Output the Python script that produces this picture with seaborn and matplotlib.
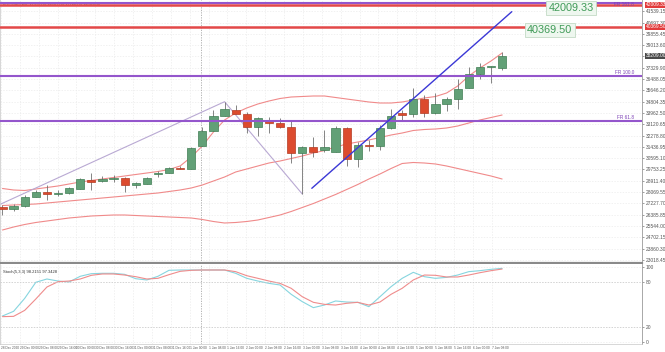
import numpy as np
import pandas as pd
import seaborn as sns
import matplotlib.pyplot as plt

# BTCUSD 4H candles
opens = [26982, 26788, 27034, 27727, 28099, 27943, 27980, 28323, 28971, 28874,
         29083, 29098, 28651, 28673, 29448, 29515, 29888, 29791, 31527, 32644,
         33739, 34186, 33888, 32942, 33389, 33240, 32897, 31004, 31452, 31206,
         31079, 32822, 30513, 31579, 31504, 32822, 33940, 33866, 35006, 33940,
         34611, 34983, 35848, 36880, 37401, 37315]
highs = [27108, 27183, 27854, 28226, 28598, 28226, 28450, 29083, 29485, 29232,
         29343, 29194, 28844, 29194, 29642, 29903, 29977, 31430, 32943, 34186,
         34782, 34559, 34059, 33665, 33687, 33568, 33441, 31504, 32197, 32696,
         32994, 32934, 31824, 31951, 33069, 34260, 34186, 35803, 35304, 35431,
         35177, 36474, 37424, 37710, 37439, 38507]
lows = [26363, 26661, 26959, 27667, 27481, 27779, 27928, 28301, 28226, 28822,
        28844, 28099, 28353, 28636, 29216, 29493, 29753, 29753, 31504, 32622,
        33702, 33851, 32472, 32249, 32450, 32867, 30215, 27928, 30707, 31057,
        31057, 30014, 29964, 31154, 31206, 32770, 33441, 33687, 33687, 33925,
        34134, 34238, 35826, 36474, 36220, 37166]
closes = [26788, 27034, 27727, 28077, 27928, 27988, 28353, 29023, 28844, 29068,
          29120, 28598, 28688, 29098, 29493, 29843, 29791, 31333, 32644, 33739,
          34238, 33888, 32897, 33568, 33195, 32897, 31004, 31452, 31034, 31452,
          32822, 30513, 31579, 31527, 32822, 33739, 33866, 35006, 33940, 34611,
          34983, 35751, 36880, 37424, 37424, 38209]

# Bollinger bands
upper = [28338, 28226, 28189, 28300, 28412, 28524, 28673, 28822, 28934, 29045,
         29157, 29269, 29381, 29492, 29604, 29753, 30014, 30684, 31504, 32547,
         33441, 33962, 34335, 34633, 34856, 35043, 35154, 35192, 35229, 35229,
         35117, 35005, 34894, 34782, 34707, 34707, 34782, 34931, 35080, 35192,
         35452, 35974, 36719, 37315, 37836, 38432]
middle = [27071, 27108, 27146, 27183, 27257, 27332, 27406, 27481, 27555, 27630,
          27704, 27779, 27853, 27928, 28002, 28114, 28226, 28375, 28598, 28896,
          29194, 29567, 29790, 30014, 30237, 30386, 30573, 30759, 30982, 31169,
          31429, 31653, 31802, 31951, 32137, 32323, 32472, 32659, 32733, 32770,
          32845, 32994, 33217, 33441, 33627, 33813]
lower = [25246, 25469, 25656, 25805, 25916, 26028, 26140, 26214, 26289, 26326,
         26363, 26363, 26326, 26289, 26252, 26214, 26177, 26140, 26028, 25879,
         25767, 25805, 25879, 25991, 26177, 26363, 26624, 26922, 27220, 27555,
         27891, 28263, 28636, 29045, 29418, 29828, 30200, 30275, 30237, 30163,
         30014, 29828, 29641, 29455, 29269, 29045]

# stochastic
stoch_k = [34.7, 40.9, 58.2, 79.6, 84.0, 81.3, 80.0, 87.6, 91.1, 91.6,
           91.6, 90.2, 84.4, 82.7, 87.6, 95.6, 96.0, 96.0, 96.0, 96.0,
           96.0, 91.6, 84.9, 81.3, 78.2, 76.0, 63.6, 53.8, 45.8, 49.3,
           54.7, 53.3, 52.9, 47.1, 60.4, 73.8, 84.9, 92.9, 87.1, 84.9,
           86.2, 89.3, 93.8, 95.1, 96.9, 98.2]
stoch_d = [33.8, 34.2, 42.2, 57.3, 73.3, 80.4, 81.3, 84.0, 88.9, 90.7,
           90.7, 89.3, 87.1, 84.0, 84.9, 89.8, 94.2, 95.6, 96.0, 96.0,
           96.0, 93.8, 88.4, 84.9, 81.3, 78.2, 71.6, 60.4, 52.9, 50.2,
           49.3, 51.6, 52.9, 49.3, 53.3, 63.6, 71.6, 82.7, 89.3, 88.9,
           86.7, 86.7, 89.3, 92.4, 95.1, 97.3]

# levels and drawings
red_levels = [42009.33, 40369.50]
fib_levels = [42140.0, 36719.0, 33366.0]
fib_names = ['FR 161.8', 'FR 100.0', 'FR 61.8']
zigzag_x = [-1.0, 20.0, 27.0]
zigzag_y = [26860, 34804, 27928]
trend_x = [27.86, 45.87]
trend_y = [28353, 41509]

price_ticks = [41539.15, 40697.30, 39855.45, 39013.60, 38171.75, 37329.90,
               36488.05, 35646.20, 34804.35, 33962.50, 33120.65, 32278.80,
               31436.95, 30595.10, 29753.25, 28911.40, 28069.55, 27227.70,
               26385.85, 25544.00, 24702.15, 23860.30, 23018.45]
time_labels = ['28 Dec 2020', '29 Dec 00:00', '29 Dec 08:00', '29 Dec 16:00',
               '30 Dec 00:00', '30 Dec 08:00', '30 Dec 16:00', '31 Dec 00:00',
               '31 Dec 08:00', '31 Dec 16:00', '1 Jan 00:00', '1 Jan 08:00',
               '1 Jan 16:00', '2 Jan 00:00', '2 Jan 08:00', '2 Jan 16:00',
               '3 Jan 00:00', '3 Jan 08:00', '3 Jan 16:00', '4 Jan 00:00',
               '4 Jan 08:00', '4 Jan 16:00', '5 Jan 00:00', '5 Jan 08:00',
               '5 Jan 16:00', '6 Jan 00:00', '7 Jan 08:00']

sns.set_theme(style="white")
plt.rcParams['font.family'] = ['Liberation Sans', 'DejaVu Sans']

bars = np.arange(len(closes))
o = np.array(opens, dtype=float)
c = np.array(closes, dtype=float)

fig = plt.figure(figsize=(6.65, 3.52), dpi=100)
ax = fig.add_axes([0.0, 1 - 263 / 352, 642 / 665, 263 / 352])
ax2 = fig.add_axes([0.0, 8 / 352, 642 / 665, 80 / 352], sharex=ax)

# candles
rising = c >= o
body_h = np.maximum(np.abs(c - o), 110)
body_bot = (o + c) / 2 - body_h / 2
ax.vlines(bars, lows, highs, color='#707070', lw=0.6, zorder=3)
ax.bar(bars, body_h, bottom=body_bot, width=0.74,
       color=np.where(rising, '#62a077', '#dc4b2e'),
       edgecolor=np.where(rising, '#3f7d53', '#b33b22'), linewidth=0.5, zorder=4)

# bollinger
bands = pd.DataFrame({'bar': bars, 'upper': upper, 'middle': middle, 'lower': lower})
for col in ['upper', 'middle', 'lower']:
    sns.lineplot(data=bands, x='bar', y=col, ax=ax, color='#f08a8a', lw=0.8, zorder=2)

# horizontal levels
for lv in red_levels:
    ax.axhline(lv, color='#e34848', lw=1.8, zorder=5)
for lv, nm in zip(fib_levels, fib_names):
    ax.axhline(lv, color='#9456cc', lw=1.5, zorder=5)
    ax.text(0.988, lv - 60 if lv > 42000 else lv + 40, nm,
            transform=ax.get_yaxis_transform(), ha='right',
            va='center' if lv > 42000 else 'bottom',
            fontsize=3.4, color='#7b3fb5', zorder=6)

# drawings
ax.plot(zigzag_x, zigzag_y, color='#b9a9d3', lw=0.8, zorder=2)
ax.plot(trend_x, trend_y, color='#3b38d6', lw=1.0, zorder=6)

# annotated prices
ax.text(51.2, red_levels[0] - 210, '42009.33', ha='center', va='center',
        fontsize=7.8, color='#3f9a57', zorder=7,
        bbox=dict(boxstyle='square,pad=0.2', fc='#eef7ef', ec='#c3dac6', lw=0.6))
ax.text(49.3, red_levels[1] - 200, '40369.50', ha='center', va='center',
        fontsize=7.8, color='#3f9a57', zorder=7,
        bbox=dict(boxstyle='square,pad=0.2', fc='#eef7ef', ec='#c3dac6', lw=0.6))

# right side price boxes
yt = ax.get_yaxis_transform()
for lv in red_levels:
    ax.text(1.006, lv, f'{lv:.2f}', transform=yt, ha='left', va='center',
            fontsize=3.5, color='white', clip_on=False,
            bbox=dict(boxstyle='square,pad=0.2', fc='#e23c3c', ec='none'))
ax.text(1.006, closes[-1], f'{closes[-1]:.2f}', transform=yt, ha='left', va='center',
        fontsize=3.5, color='white', clip_on=False,
        bbox=dict(boxstyle='square,pad=0.2', fc='#4a4a4a', ec='none'))

ax.text(0.004, 0.992, 'BTCUSD,H4  37315.00 38507.00 37166.00 38209.00',
        transform=ax.transAxes, ha='left', va='top', fontsize=3, color='#333333')

# stochastic panel
sns.lineplot(x=bars, y=stoch_k, ax=ax2, color='#86d5df', lw=0.8)
sns.lineplot(x=bars, y=stoch_d, ax=ax2, color='#ef8c8c', lw=0.8)
for lv in [80, 20]:
    ax2.axhline(lv, color='#c8c8c8', lw=0.5, ls=(0, (2, 2)))
ax2.text(0.004, 0.93, 'Stoch(5,3,3) 98.2151 97.3428', transform=ax2.transAxes,
         ha='left', va='top', fontsize=3, color='#333333')

for a in (ax, ax2):
    a.axvline(17.9, color='#a8a8a8', lw=0.6, ls=(0, (1.5, 1.5)), zorder=1)
    a.set_xlabel('')
    a.set_ylabel('')
    a.yaxis.tick_right()
    a.tick_params(axis='y', labelsize=3.5, colors='#555555', length=1.5, width=0.4, pad=1)
    a.grid(True, color='#ebebeb', lw=0.5, ls=(0, (2, 2)))
    a.spines['top'].set_visible(False)
    a.spines['left'].set_color('#d0d0d0')
    a.spines['left'].set_linewidth(0.6)
    a.spines['right'].set_color('#9a9a9a')
    a.spines['right'].set_linewidth(0.6)

ax.set_xlim(-0.225, 57.6)
ax.set_ylim(22787, 42381)
ax.set_yticks(price_ticks)
ax.set_yticklabels([f'{v:.2f}' for v in price_ticks])
ax.spines['bottom'].set_color('#8a8a8a')
ax.spines['bottom'].set_linewidth(1.6)
ax.tick_params(axis='x', bottom=False, labelbottom=False)

ax2.set_ylim(-2.67, 104)
ax2.set_yticks([0, 20, 80, 100])
ax2.set_yticklabels(['0', '20', '80', '100'])
ax2.set_xticks(-0.135 + 1.7 * np.arange(len(time_labels)))
ax2.set_xticklabels(time_labels, ha='left')
ax2.tick_params(axis='x', labelsize=2.3, colors='#555555', length=0, pad=1.5)
ax2.spines['bottom'].set_color('#c8c8c8')
ax2.spines['bottom'].set_linewidth(0.5)

fig.savefig('out.png', dpi=100, facecolor='white')
